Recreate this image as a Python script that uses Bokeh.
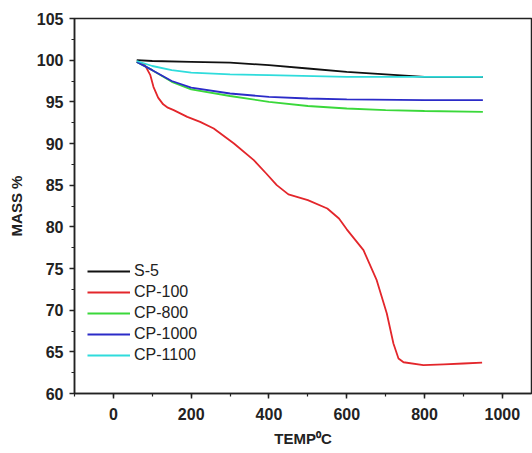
from bokeh.plotting import figure
from bokeh.models import Range1d, SingleIntervalTicker, Legend, LegendItem
from bokeh.embed import file_html
from bokeh.resources import INLINE

series_names = ["S-5", "CP-100", "CP-800", "CP-1000", "CP-1100"]
series_colors = ["#111111", "#e3262b", "#3ad83a", "#2b2bc8", "#2fdcdc"]

s5_temp = [60, 100, 200, 300, 400, 500, 600, 700, 800, 950]
s5_mass = [100.0, 99.9, 99.8, 99.7, 99.4, 99.0, 98.6, 98.3, 98.0, 98.0]

cp100_temp = [60, 80, 95, 103, 115, 128, 140, 155, 190, 223, 258, 310, 361, 393, 420, 450,
              500, 550, 580, 600, 643, 677, 703, 720, 733, 746, 797, 850, 900, 948]
cp100_mass = [99.8, 99.5, 98.2, 96.8, 95.5, 94.7, 94.3, 94.0, 93.2, 92.6, 91.8, 90.0, 88.0,
              86.4, 85.0, 83.9, 83.2, 82.2, 81.0, 79.7, 77.2, 73.6, 69.6, 66.0, 64.2, 63.75,
              63.4, 63.5, 63.6, 63.7]

cp800_temp = [60, 100, 150, 200, 300, 400, 500, 600, 700, 800, 950]
cp800_mass = [99.8, 98.8, 97.4, 96.5, 95.7, 95.0, 94.5, 94.2, 94.0, 93.9, 93.8]

cp1000_temp = [60, 100, 150, 200, 300, 400, 500, 600, 800, 950]
cp1000_mass = [99.8, 98.8, 97.5, 96.7, 96.0, 95.6, 95.4, 95.3, 95.2, 95.2]

cp1100_temp = [60, 100, 150, 200, 300, 400, 600, 800, 950]
cp1100_mass = [99.9, 99.3, 98.8, 98.5, 98.3, 98.2, 98.0, 98.0, 98.0]

x_label = "TEMP\u2070C"
y_label = "MASS %"

p = figure(width=532, height=453, output_backend="svg", toolbar_location=None,
           x_range=Range1d(-100, 1075), y_range=Range1d(60, 105),
           min_border_left=74, min_border_right=1, min_border_top=18, min_border_bottom=60)
p.grid.visible = False
p.outline_line_color = "#222222"
p.outline_line_width = 1.5
p.background_fill_color = "white"
p.border_fill_color = "white"

p.xaxis.ticker = SingleIntervalTicker(interval=200, num_minor_ticks=2)
p.yaxis.ticker = SingleIntervalTicker(interval=5, num_minor_ticks=2)

for ax in (p.xaxis[0], p.yaxis[0]):
    ax.axis_line_color = "#222222"
    ax.axis_line_width = 1.5
    ax.major_tick_line_color = "#222222"
    ax.minor_tick_line_color = "#222222"
    ax.major_tick_line_width = 1.5
    ax.minor_tick_line_width = 1.2
    ax.major_tick_in = 0
    ax.major_tick_out = 5
    ax.minor_tick_in = 0
    ax.minor_tick_out = 3
    ax.major_label_text_font = "Liberation Sans"
    ax.major_label_text_font_style = "bold"
    ax.major_label_text_font_size = "16px"
    ax.major_label_text_color = "#222222"
    ax.axis_label_text_font = "Liberation Sans"
    ax.axis_label_text_font_style = "bold"
    ax.axis_label_text_font_size = "15px"
    ax.axis_label_text_color = "#222222"

p.xaxis.axis_label = x_label
p.yaxis.axis_label = y_label
p.xaxis.major_label_standoff = 9
p.yaxis.major_label_standoff = 6
p.xaxis.axis_label_standoff = 7
p.yaxis.axis_label_standoff = 9

data = [(s5_temp, s5_mass), (cp100_temp, cp100_mass), (cp800_temp, cp800_mass),
        (cp1000_temp, cp1000_mass), (cp1100_temp, cp1100_mass)]
renderers = []
for (t, m), c in zip(data, series_colors):
    r = p.line(t, m, line_color=c, line_width=1.8)
    renderers.append(r)

items = [LegendItem(label=n, renderers=[r]) for n, r in zip(series_names, renderers)]
legend = Legend(items=items, location=(13, 28), padding=0, margin=0, spacing=1,
                glyph_width=43, glyph_height=20, label_height=20, label_standoff=4,
                label_text_font="Liberation Sans", label_text_font_size="16px",
                label_text_color="#222222",
                border_line_alpha=0, background_fill_alpha=0)
p.add_layout(legend, "center")

open("out.html", "w").write(file_html(p, INLINE))
